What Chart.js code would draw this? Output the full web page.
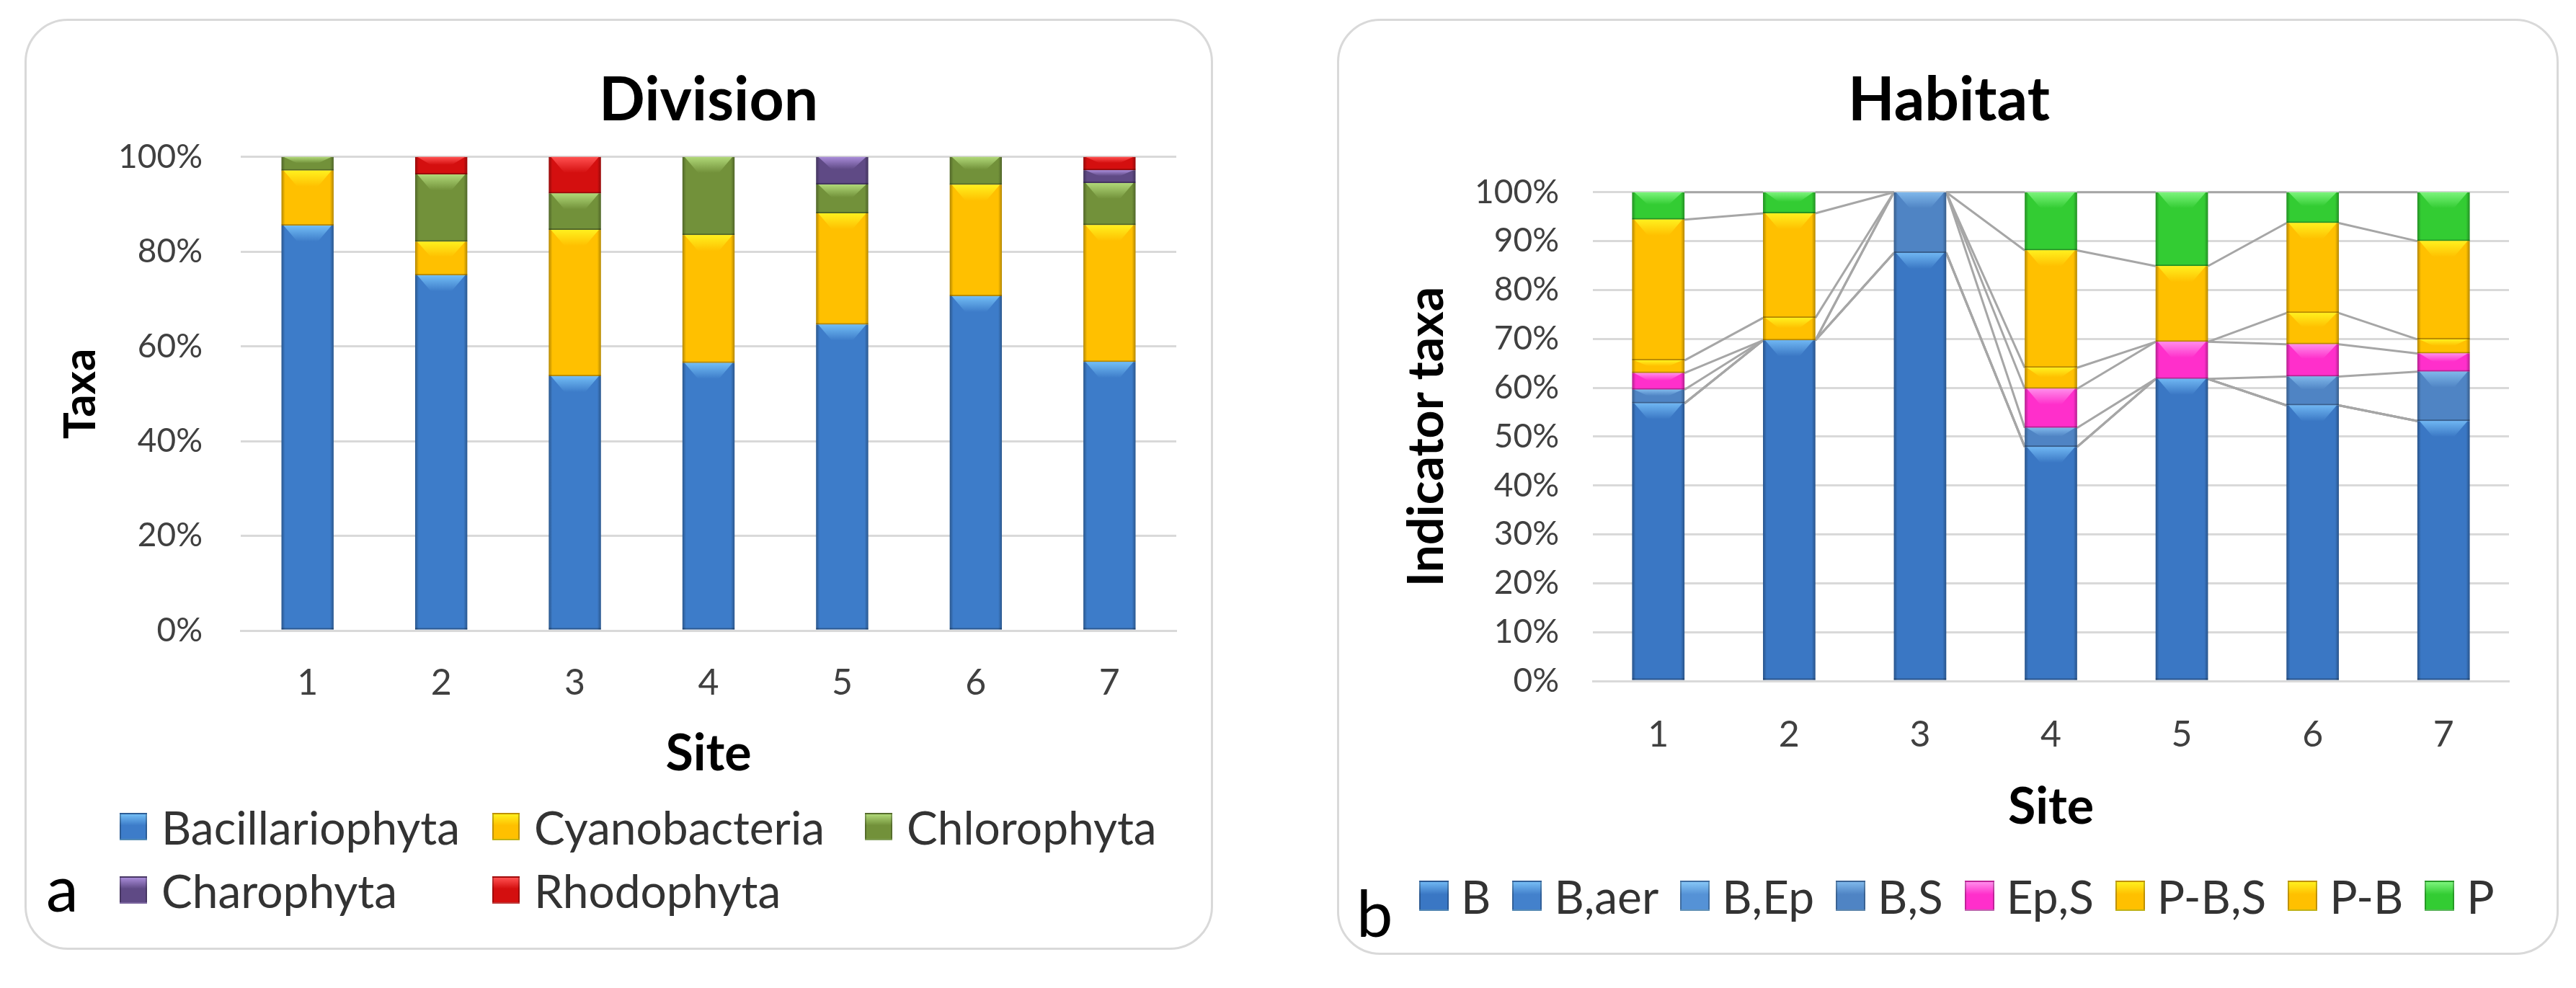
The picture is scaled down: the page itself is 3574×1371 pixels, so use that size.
<!DOCTYPE html>
<html>
<head>
<meta charset="utf-8">
<title>Division and Habitat</title>
<script src="https://cdn.jsdelivr.net/npm/chart.js@4.4.1/dist/chart.umd.min.js"></script>
<style>
    html, body { margin: 0; padding: 0; background: #fff; }
    body { position: relative; width: 3574px; height: 1371px; overflow: hidden; font-family: Lato, "Open Sans", sans-serif; }
    .frame { position: absolute; box-sizing: border-box; border: 3px solid #D9D9D9; border-radius: 60px; }
    canvas { position: absolute; }
    .legend { position: absolute; color: #333; }
    .legend .item { display: flex; align-items: center; white-space: nowrap; }
    .legend .swatch { display: inline-block; box-sizing: border-box; }
    .tag { position: absolute; font-size: 90px; line-height: 90px; color: #000; }
    #legendA { left: 166px; top: 1103px; display: grid; grid-template-columns: 517px 517px auto; grid-auto-rows: 88px; font-size: 64px; }
    #legendA .swatch { width: 38px; height: 38px; margin-right: 20px; }
    #legendB { left: 1969px; top: 1199px; display: flex; height: 88px; font-size: 64px; }
    #legendB .item { margin-right: 30px; }
    #legendB .swatch { width: 41px; height: 42px; margin-right: 17px; }
</style>
</head>
<body>

<div class="frame" style="left:34px; top:26px; width:1649px; height:1292px;"></div>
<canvas id="divisionChart" width="1649" height="1292" style="left:34px; top:26px;"></canvas>
<div class="legend" id="legendA"></div>
<div class="tag" style="left:64px; top:1185px;">a</div>

<div class="frame" style="left:1855px; top:26px; width:1695px; height:1299px;"></div>
<canvas id="habitatChart" width="1623" height="1299" style="left:1927px; top:26px;"></canvas>
<div class="legend" id="legendB"></div>
<div class="tag" style="left:1882px; top:1220px;">b</div>

<script>
// Data (percent of taxa per site)
const sites = ['1', '2', '3', '4', '5', '6', '7'];

const divisionNames = ['Bacillariophyta', 'Cyanobacteria', 'Chlorophyta', 'Charophyta', 'Rhodophyta'];
const bacillariophyta = [85.5, 75.0, 53.7, 56.5, 64.6, 70.6, 56.7];
const cyanobacteria   = [11.6, 7.1, 30.9, 27.0, 23.5, 23.5, 28.9];
const chlorophyta     = [2.9, 14.2, 7.7, 16.5, 6.1, 5.9, 8.9];
const charophyta      = [0, 0, 0, 0, 5.8, 0, 2.7];
const rhodophyta      = [0, 3.7, 7.7, 0, 0, 0, 2.8];
const divisionTicks   = [0, 20, 40, 60, 80, 100];

const habitatNames = ['B', 'B,aer', 'B,Ep', 'B,S', 'Ep,S', 'P-B,S', 'P-B', 'P'];
const habB    = [56.8, 69.7, 87.6, 47.9, 61.8, 56.4, 53.2];
const habBaer = [0, 0, 0, 0, 0, 0, 0];
const habBEp  = [0, 0, 0, 0, 0, 0, 0];
const habBS   = [2.8, 0, 12.4, 3.9, 0, 5.9, 10.1];
const habEpS  = [3.4, 0, 0, 8.0, 7.6, 6.6, 3.7];
const habPBS  = [2.6, 4.6, 0, 4.3, 0, 6.4, 2.9];
const habPB   = [28.8, 21.4, 0, 24.0, 15.5, 18.4, 20.1];
const habP    = [5.6, 4.3, 0, 11.9, 15.1, 6.3, 10.0];
const habitatTicks = [0, 10, 20, 30, 40, 50, 60, 70, 80, 90, 100];

// Colours (Excel style: base fill + lighter bevel)
const divisionColors = ['#3D7CC9', '#FFC000', '#72913A', '#5F4A85', '#D40F0F'];
const divisionBevel  = ['#72BDF5', '#FFF01E', '#B0D878', '#A88BD8', '#FF5050'];
const habitatColors  = ['#3A77C4', '#4381CC', '#5592D6', '#4F84C4', '#FF2FCB', '#FFC000', '#FFC000', '#33CC33'];
const habitatBevel   = ['#6FB6F2', '#76BCF4', '#86C6F6', '#7FB7EA', '#FF8CEB', '#FFF01E', '#FFF01E', '#7CF47C'];

const GRID = '#D9D9D9';
const TICK = '#404040';
Chart.defaults.font.family = 'Lato, "Open Sans", sans-serif';

// Excel-like bevel: dark sides, light wedge on top, dark bottom seam
const bevelPlugin = {
    id: 'bevel',
    afterDatasetDraw(chart, args) {
        const ctx = chart.ctx;
        const ds = chart.data.datasets[args.index];
        args.meta.data.forEach(bar => {
            const top = Math.min(bar.y, bar.base);
            const bottom = Math.max(bar.y, bar.base);
            const h = bottom - top;
            if (h < 1) return;
            const left = bar.x - bar.width / 2;
            const right = bar.x + bar.width / 2;
            ctx.save();
            const side = ctx.createLinearGradient(left, 0, right, 0);
            side.addColorStop(0, 'rgba(0,0,0,0.30)');
            side.addColorStop(0.07, 'rgba(0,0,0,0)');
            side.addColorStop(0.93, 'rgba(0,0,0,0)');
            side.addColorStop(1, 'rgba(0,0,0,0.30)');
            ctx.fillStyle = side;
            ctx.fillRect(left, top, right - left, h);

            const bh = Math.min(22, h * 0.45);
            const wedge = ctx.createLinearGradient(0, top, 0, top + bh);
            wedge.addColorStop(0, ds.bevelColor);
            wedge.addColorStop(1, ds.backgroundColor);
            ctx.fillStyle = wedge;
            ctx.beginPath();
            ctx.moveTo(left + 3, top);
            ctx.lineTo(right - 3, top);
            ctx.lineTo(right - bar.width * 0.3, top + bh);
            ctx.lineTo(left + bar.width * 0.3, top + bh);
            ctx.closePath();
            ctx.fill();

            ctx.fillStyle = 'rgba(0,0,0,0.28)';
            ctx.fillRect(left, bottom - 2, right - left, 2);
            ctx.restore();
        });
    }
};

// Excel "series lines": join the top of each series between neighbouring bars
const seriesLinesPlugin = {
    id: 'seriesLines',
    beforeDatasetsDraw(chart, args, opts) {
        if (!opts || !opts.color) return;
        const ctx = chart.ctx;
        ctx.save();
        ctx.strokeStyle = opts.color;
        ctx.lineWidth = opts.width;
        chart.data.datasets.forEach((ds, i) => {
            const bars = chart.getDatasetMeta(i).data;
            for (let k = 0; k < bars.length - 1; k++) {
                const a = bars[k], b = bars[k + 1];
                ctx.beginPath();
                ctx.moveTo(a.x + a.width / 2, a.y);
                ctx.lineTo(b.x - b.width / 2, b.y);
                ctx.stroke();
            }
        });
        ctx.restore();
    }
};

function makeDatasets(names, series, colors, bevels, barPct) {
    return names.map((name, i) => ({
        label: name,
        data: series[i],
        backgroundColor: colors[i],
        bevelColor: bevels[i],
        borderWidth: 0,
        barPercentage: barPct,
        categoryPercentage: 1
    }));
}

function makeOptions(cfg) {
    return {
        responsive: false,
        animation: false,
        devicePixelRatio: 1,
        layout: { padding: { left: 0, right: cfg.padRight, top: 0, bottom: cfg.padBottom } },
        plugins: {
            legend: { display: false },
            tooltip: { enabled: false },
            seriesLines: cfg.seriesLines || {},
            title: {
                display: true,
                text: cfg.title,
                color: '#000',
                fullSize: cfg.titleFull,
                font: { size: 84, weight: 'bold', lineHeight: 1.2 },
                padding: { top: 64, bottom: cfg.titleGap }
            }
        },
        scales: {
            x: {
                stacked: true,
                grid: { display: false, drawTicks: false },
                border: { color: GRID, width: 3 },
                ticks: { color: TICK, font: { size: 50 }, padding: cfg.xTickPad },
                title: { display: true, text: 'Site', color: '#000', font: { size: 70, weight: 'bold', lineHeight: 1.2 }, padding: 0 },
                afterFit: scale => { scale.height = cfg.xHeight; }
            },
            y: {
                stacked: true,
                min: 0,
                max: 100,
                afterBuildTicks: axis => { axis.ticks = cfg.ticks.map(v => ({ value: v })); },
                grid: { color: GRID, lineWidth: 3, drawTicks: false },
                border: { display: false },
                ticks: { color: TICK, font: { size: 46 }, padding: cfg.yTickPad, callback: v => v + '%' },
                title: { display: true, text: cfg.yTitle, color: '#000', font: { size: cfg.yTitleSize, weight: 'bold', lineHeight: 1.2 }, padding: { top: cfg.yTitlePad, bottom: 0 } },
                afterFit: scale => { scale.width = cfg.yWidth; }
            }
        }
    };
}

function buildLegend(el, chart) {
    chart.data.datasets.forEach(ds => {
        const item = document.createElement('div');
        item.className = 'item';
        const sw = document.createElement('span');
        sw.className = 'swatch';
        sw.style.background = 'linear-gradient(to bottom, ' + ds.bevelColor + ' 0%, ' + ds.backgroundColor + ' 45%)';
        sw.style.border = '2px solid rgba(0,0,0,0.25)';
        const txt = document.createElement('span');
        txt.textContent = ds.label;
        item.appendChild(sw);
        item.appendChild(txt);
        el.appendChild(item);
    });
}

const divisionChart = new Chart(document.getElementById('divisionChart'), {
    type: 'bar',
    data: {
        labels: sites,
        datasets: makeDatasets(divisionNames,
            [bacillariophyta, cyanobacteria, chlorophyta, charophyta, rhodophyta],
            divisionColors, divisionBevel, 0.39)
    },
    options: makeOptions({
        title: 'Division', titleGap: 27, titleFull: false, padRight: 51, padBottom: 230,
        xHeight: 213, xTickPad: 43,
        yWidth: 300, yTickPad: 53, ticks: divisionTicks,
        yTitle: 'Taxa', yTitleSize: 62, yTitlePad: 41
    }),
    plugins: [bevelPlugin]
});

const habitatChart = new Chart(document.getElementById('habitatChart'), {
    type: 'bar',
    data: {
        labels: sites,
        datasets: makeDatasets(habitatNames,
            [habB, habBaer, habBEp, habBS, habEpS, habPBS, habPB, habP],
            habitatColors, habitatBevel, 0.40)
    },
    options: makeOptions({
        title: 'Habitat', titleGap: 76, titleFull: true, padRight: 69, padBottom: 163,
        xHeight: 217, xTickPad: 45,
        yWidth: 283, yTickPad: 47, ticks: habitatTicks,
        yTitle: 'Indicator taxa', yTitleSize: 68, yTitlePad: 12,
        seriesLines: { color: '#A6A6A6', width: 3 }
    }),
    plugins: [seriesLinesPlugin, bevelPlugin]
});

buildLegend(document.getElementById('legendA'), divisionChart);
buildLegend(document.getElementById('legendB'), habitatChart);
</script>
</body>
</html>
